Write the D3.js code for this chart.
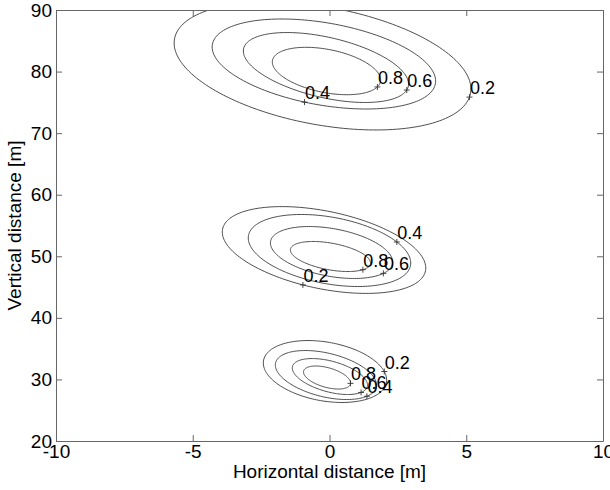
<!DOCTYPE html>
<html>
<head>
<meta charset="utf-8">
<script src="https://cdn.jsdelivr.net/npm/d3@7"></script>
<style>
  body { margin: 0; background: #fff; }
  text { font-family: "Liberation Sans", Arial, sans-serif; }
</style>
</head>
<body>
<div id="chart"></div>
<script>
// Contour plot of three sources, levels 0.8 (inner) .. 0.2 (outer)

const width = 610, height = 490;
const margin = { top: 10, right: 7, bottom: 49, left: 56 };

const levels = [0.8, 0.6, 0.4, 0.2];
const xTicks = [-10, -5, 0, 5, 10];
const yTicks = [20, 30, 40, 50, 60, 70, 80, 90];

// one row per level: [leftmost x, leftmost y, rightmost x, rightmost y, half vertical extent] in metres
const upperEllipses = [
  [-2.09, 81.55, 1.87, 78.63, 3.85],
  [-3.15, 83.34, 2.89, 77.98, 5.68],
  [-4.29, 83.99, 3.88, 78.47, 7.31],
  [-5.68, 84.64, 5.17, 77.17, 10.39]
];
const middleEllipses = [
  [-1.43, 51.02, 1.50, 48.91, 2.44],
  [-2.16, 52.16, 2.31, 49.07, 4.22],
  [-2.97, 52.97, 2.97, 48.91, 5.85],
  [-3.92, 53.94, 3.52, 48.10, 7.05]
];
const lowerEllipses = [
  [-0.95, 31.20, 0.77, 29.42, 1.87],
  [-1.36, 31.85, 1.39, 29.09, 2.92],
  [-1.98, 32.34, 1.72, 29.09, 3.98],
  [-2.42, 32.67, 2.09, 29.90, 5.03]
];

// where the "+" label markers sit (same level order)
const upperLabels = [[1.76, 77.41], [2.84, 76.93], [-0.93, 74.25], [5.08, 75.87]];
const middleLabels = [[1.18, 48.31], [1.91, 47.77], [2.26, 51.30], [-0.96, 44.64]];
const lowerLabels = [[0.71, 29.37], [1.07, 28.82], [1.32, 27.84], [1.99, 31.25]];

const x = d3.scaleLinear().domain([-10, 10]).range([margin.left, width - margin.right]);
const y = d3.scaleLinear().domain([20, 90]).range([height - margin.bottom, margin.top]);

const svg = d3.select("#chart")
  .append("svg")
  .attr("width", width)
  .attr("height", height)
  .attr("viewBox", [0, 0, width, height]);

svg.append("defs").append("clipPath")
  .attr("id", "plot-clip")
  .append("rect")
  .attr("x", x(-10))
  .attr("y", y(90))
  .attr("width", x(10) - x(-10))
  .attr("height", y(20) - y(90));

// points of an ellipse given by its leftmost/rightmost points and vertical half extent
function ellipsePoints([xl, yl, xr, yr, h]) {
  const cx = (xl + xr) / 2, cy = (yl + yr) / 2;
  const a = (xr - xl) / 2, c = (yr - yl) / 2;
  const b = Math.sqrt(Math.max(h * h - c * c, 0));
  return d3.range(0, 361, 2).map(deg => {
    const t = deg * Math.PI / 180;
    return [cx + a * Math.cos(t), cy + b * Math.sin(t) + c * Math.cos(t)];
  });
}

const line = d3.line()
  .x(d => x(d[0]))
  .y(d => y(d[1]));

const clusters = [
  { ellipses: upperEllipses, labels: upperLabels },
  { ellipses: middleEllipses, labels: middleLabels },
  { ellipses: lowerEllipses, labels: lowerLabels }
];

const plot = svg.append("g").attr("clip-path", "url(#plot-clip)");

const labelData = [];
for (const cl of clusters) {
  cl.ellipses.forEach((e, i) => {
    const pts = ellipsePoints(e);
    plot.append("path")
      .attr("d", line(pts))
      .attr("fill", "none")
      .attr("stroke", "#3a3a3a")
      .attr("stroke-width", 0.9);
    // snap the marker onto the drawn curve
    const target = cl.labels[i];
    const near = d3.least(pts, p => (x(p[0]) - x(target[0])) ** 2 + (y(p[1]) - y(target[1])) ** 2);
    labelData.push({ level: levels[i], p: near });
  });
}

svg.append("g")
  .selectAll("path")
  .data(labelData)
  .join("path")
  .attr("transform", d => `translate(${x(d.p[0])},${y(d.p[1])})`)
  .attr("d", "M-3,0H3M0,-3V3")
  .attr("stroke", "#333")
  .attr("stroke-width", 0.9);

svg.append("g")
  .selectAll("text")
  .data(labelData)
  .join("text")
  .attr("x", d => x(d.p[0]) + 0.5)
  .attr("y", d => y(d.p[1]) - 3)
  .attr("font-size", 18)
  .attr("fill", "#000")
  .text(d => d.level);

// axes with inward ticks on all four sides
const fmt = d => `${d}`;
const axisColor = "#666";

const gx = svg.append("g")
  .attr("transform", `translate(0,${y(20)})`)
  .call(d3.axisBottom(x).tickValues(xTicks).tickFormat(fmt).tickSizeInner(-6).tickSizeOuter(0).tickPadding(3));
const gxt = svg.append("g")
  .attr("transform", `translate(0,${y(90)})`)
  .call(d3.axisTop(x).tickValues(xTicks).tickFormat("").tickSizeInner(-6).tickSizeOuter(0));
const gy = svg.append("g")
  .attr("transform", `translate(${x(-10)},0)`)
  .call(d3.axisLeft(y).tickValues(yTicks).tickFormat(fmt).tickSizeInner(-6).tickSizeOuter(0).tickPadding(4));
const gyr = svg.append("g")
  .attr("transform", `translate(${x(10)},0)`)
  .call(d3.axisRight(y).tickValues(yTicks).tickFormat("").tickSizeInner(-6).tickSizeOuter(0));

for (const g of [gx, gxt, gy, gyr]) {
  g.select(".domain").attr("stroke", axisColor);
  g.selectAll(".tick line").attr("stroke", axisColor);
  g.selectAll("text")
    .attr("font-size", 19)
    .attr("fill", "#000")
    .style("font-family", "'Liberation Sans', Arial, sans-serif");
}

svg.append("text")
  .attr("x", (x(-10) + x(10)) / 2)
  .attr("y", 478)
  .attr("text-anchor", "middle")
  .attr("font-size", 19)
  .text("Horizontal distance [m]");

svg.append("text")
  .attr("transform", `translate(21,${(y(20) + y(90)) / 2}) rotate(-90)`)
  .attr("text-anchor", "middle")
  .attr("font-size", 19)
  .text("Vertical distance [m]");
</script>
</body>
</html>
